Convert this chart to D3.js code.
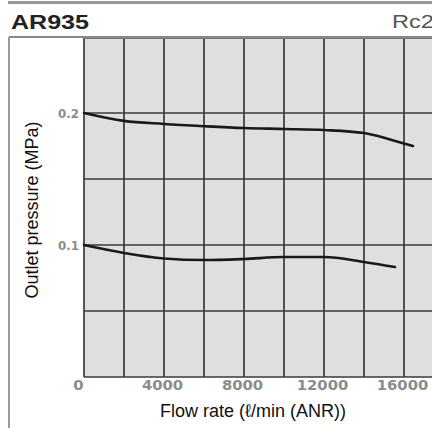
<!DOCTYPE html>
<html>
<head>
<meta charset="utf-8">
<script src="https://cdn.jsdelivr.net/npm/d3@7"></script>
<style>
html,body{margin:0;padding:0;background:#fff;}
svg{display:block;}
</style>
</head>
<body>
<svg id="chart" width="432" height="428"></svg>
<script>
// ---- data ----
const title = "AR935";
const portSize = "Rc2";
const xLabel = "Flow rate (\u2113/min (ANR))";
const yLabel = "Outlet pressure (MPa)";
const xTickValues = [0, 4000, 8000, 12000, 16000];
const yTickValues = [0.1, 0.2];
const upperFlow = [0, 2000, 4000, 6000, 8000, 10000, 12000, 14000, 15300, 16450];
const upperPressure = [0.2, 0.194, 0.1917, 0.190, 0.1886, 0.1879, 0.1871, 0.1848, 0.180, 0.175];
const lowerFlow = [0, 2000, 4000, 6000, 8000, 10000, 12000, 14000, 15550];
const lowerPressure = [0.1, 0.094, 0.0898, 0.0886, 0.0894, 0.0909, 0.0909, 0.0871, 0.0833];

const svg = d3.select("#chart");
const plot = {left: 84, right: 432, top: 38, bottom: 377};

const x = d3.scaleLinear().domain([0, 17400]).range([plot.left, plot.right]);
const y = d3.scaleLinear().domain([0, 0.2568]).range([plot.bottom, plot.top]);

// frame
svg.append("line").attr("x1", 8).attr("x2", 432).attr("y1", 2.5).attr("y2", 2.5)
  .attr("stroke", "#999").attr("stroke-width", 3);
svg.append("line").attr("x1", 9).attr("x2", 432).attr("y1", 37).attr("y2", 37)
  .attr("stroke", "#888").attr("stroke-width", 2);
svg.append("line").attr("x1", 9).attr("x2", 9).attr("y1", 37).attr("y2", 428)
  .attr("stroke", "#999").attr("stroke-width", 2);

// title
svg.append("text").attr("x", 11).attr("y", 29)
  .attr("font-family", "Liberation Sans, Arial, sans-serif")
  .attr("font-weight", "bold").attr("font-size", 21)
  .attr("textLength", 78).attr("lengthAdjust", "spacingAndGlyphs")
  .attr("fill", "#222").text(title);
svg.append("text").attr("x", 392).attr("y", 28)
  .attr("font-family", "Liberation Sans, Arial, sans-serif")
  .attr("font-size", 19)
  .attr("textLength", 42).attr("lengthAdjust", "spacingAndGlyphs")
  .attr("fill", "#555").text(portSize);

// plot background
svg.append("rect").attr("x", plot.left).attr("y", plot.top)
  .attr("width", plot.right - plot.left).attr("height", plot.bottom - plot.top)
  .attr("fill", "#dfdfdf");

// grid
const gridX = d3.range(0, 17400, 2000);
const gridY = d3.range(0, 0.25, 0.05);
svg.append("clipPath").attr("id", "clip").append("rect")
  .attr("x", plot.left - 2).attr("y", plot.top).attr("width", plot.right - plot.left + 2).attr("height", plot.bottom - plot.top + 2);
const g = svg.append("g").attr("clip-path", "url(#clip)");
g.selectAll(".gx").data(gridX).join("line")
  .attr("x1", d => x(d)).attr("x2", d => x(d))
  .attr("y1", plot.top).attr("y2", plot.bottom)
  .attr("stroke", "#3a3a3a").attr("stroke-width", 1.7);
g.selectAll(".gy").data(gridY).join("line")
  .attr("x1", plot.left).attr("x2", plot.right)
  .attr("y1", d => y(d)).attr("y2", d => y(d))
  .attr("stroke", "#3a3a3a").attr("stroke-width", 1.7);
svg.append("line").attr("x1", plot.left).attr("x2", plot.right)
  .attr("y1", plot.top + 0.5).attr("y2", plot.top + 0.5)
  .attr("stroke", "#777").attr("stroke-width", 1);

// curves
const line = d3.line().x(d => x(d[0])).y(d => y(d[1])).curve(d3.curveMonotoneX);
const series = [d3.zip(upperFlow, upperPressure), d3.zip(lowerFlow, lowerPressure)];
svg.selectAll(".curve").data(series).join("path")
  .attr("d", line).attr("fill", "none")
  .attr("stroke", "#1a1a1a").attr("stroke-width", 2.6).attr("stroke-linecap", "round");

// x axis
const xAxis = d3.axisBottom(x).tickValues(xTickValues).tickSize(0).tickPadding(0)
  .tickFormat(d3.format("d"));
const xg = svg.append("g").attr("transform", `translate(0,${plot.bottom})`).call(xAxis);
xg.select(".domain").remove();
xg.selectAll("text")
  .attr("y", 13).attr("dy", 0)
  .attr("dx", d => d === 0 ? -6 : -2)
  .attr("font-family", "DejaVu Sans, sans-serif").attr("font-weight", "bold")
  .attr("font-size", 14).attr("fill", "#8c8c8c")
  .attr("textLength", d => String(d).length * 10.3).attr("lengthAdjust", "spacingAndGlyphs");

// y axis
const yAxis = d3.axisLeft(y).tickValues(yTickValues).tickSize(0).tickPadding(5)
  .tickFormat(d3.format(".1f"));
const yg = svg.append("g").attr("transform", `translate(${plot.left},0)`).call(yAxis);
yg.select(".domain").remove();
yg.selectAll("text")
  .attr("font-family", "DejaVu Sans, sans-serif").attr("font-weight", "bold")
  .attr("font-size", 13).attr("fill", "#8c8c8c")
  .attr("textLength", 21).attr("lengthAdjust", "spacingAndGlyphs");

// axis titles
svg.append("text").attr("x", 253).attr("y", 417).attr("text-anchor", "middle")
  .attr("font-family", "Liberation Sans, Arial, sans-serif").attr("font-size", 18)
  .attr("fill", "#111").text(xLabel);
svg.append("text").attr("transform", "translate(38,210) rotate(-90)")
  .attr("text-anchor", "middle")
  .attr("font-family", "Liberation Sans, Arial, sans-serif").attr("font-size", 18)
  .attr("fill", "#111").text(yLabel);
</script>
</body>
</html>
